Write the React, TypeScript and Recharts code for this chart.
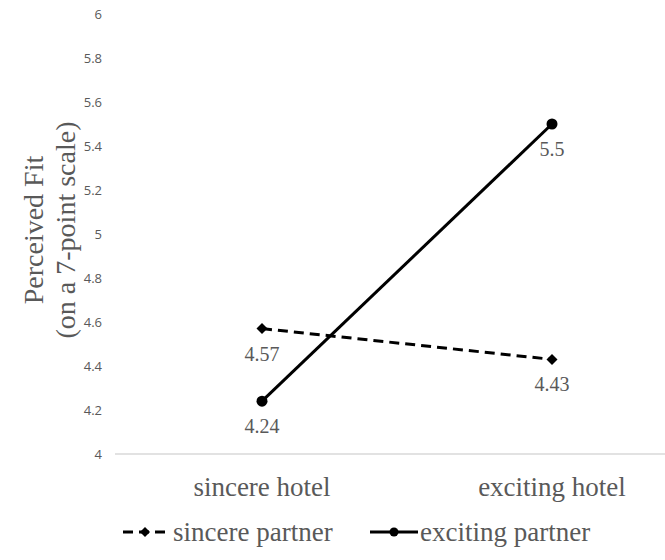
import React from 'react'
import { LineChart, Line, XAxis, YAxis, Legend, LabelList, Customized } from 'recharts'

const categories = ['sincere hotel', 'exciting hotel']
const sincerePartner = [4.57, 4.43]
const excitingPartner = [4.24, 5.5]
const yTicks = [4, 4.2, 4.4, 4.6, 4.8, 5, 5.2, 5.4, 5.6, 5.8, 6]
const seriesNames = ['sincere partner', 'exciting partner']
const yLabelLines = ['Perceived Fit', '(on a 7-point scale)']

const data = categories.map((name, i) => ({
  name,
  sincere: sincerePartner[i],
  exciting: excitingPartner[i],
}))

const SERIF = '"Liberation Serif", "Times New Roman", serif'
const GREY = '#595959'

const Diamond = (props: any) => {
  const { cx, cy } = props
  if (cx == null || cy == null) return null
  const s = 5.5
  return (
    <polygon
      points={`${cx},${cy - s} ${cx + s},${cy} ${cx},${cy + s} ${cx - s},${cy}`}
      fill="#000"
    />
  )
}

const Dot = (props: any) => {
  const { cx, cy } = props
  if (cx == null || cy == null) return null
  return <circle cx={cx} cy={cy} r={5.5} fill="#000" />
}

const valueLabel = (props: any) => {
  const { x, y, value } = props
  return (
    <text
      x={x}
      y={y + 25}
      textAnchor="middle"
      dominantBaseline="central"
      fontFamily={SERIF}
      fontSize={20}
      fill={GREY}
    >
      {value}
    </text>
  )
}

const YTitle = () => (
  <g>
    {yLabelLines.map((line, i) => {
      const x = i === 0 ? 33 : 65
      return (
        <text
          key={line}
          x={x}
          y={230}
          transform={`rotate(-90, ${x}, 230)`}
          textAnchor="middle"
          dominantBaseline="central"
          fontFamily={SERIF}
          fontSize={28}
          fill={GREY}
        >
          {line}
        </text>
      )
    })}
  </g>
)

const LegendContent = () => (
  <div style={{ position: 'relative', height: 30, fontFamily: SERIF, fontSize: 27, color: GREY }}>
    <svg width={46} height={30} style={{ position: 'absolute', left: 122, top: 0 }}>
      <line x1={1} y1={15} x2={45} y2={15} stroke="#000" strokeWidth={3} strokeDasharray="10 6" />
      <polygon points="23,10 28,15 23,20 18,15" fill="#000" />
    </svg>
    <span style={{ position: 'absolute', left: 173, top: 0, lineHeight: '30px', whiteSpace: 'nowrap' }}>
      {seriesNames[0]}
    </span>
    <svg width={48} height={30} style={{ position: 'absolute', left: 370, top: 0 }}>
      <line x1={0} y1={15} x2={48} y2={15} stroke="#000" strokeWidth={3} />
      <circle cx={24} cy={15} r={4.5} fill="#000" />
    </svg>
    <span style={{ position: 'absolute', left: 420, top: 0, lineHeight: '30px', whiteSpace: 'nowrap' }}>
      {seriesNames[1]}
    </span>
  </div>
)

export default function App() {
  return (
    <div style={{ position: 'absolute', left: 0, top: 0, background: '#fff' }}>
      <LineChart width={665} height={560} data={data} margin={{ top: 14, right: 0, left: 0, bottom: 66 }}>
        <XAxis
          dataKey="name"
          height={40}
          padding={{ left: 147, right: 113 }}
          tickLine={false}
          tickSize={0}
          tickMargin={23}
          axisLine={{ stroke: '#d9d9d9', strokeWidth: 1.5 }}
          tick={{ fontFamily: SERIF, fontSize: 27, fill: GREY }}
        />
        <YAxis
          width={115}
          domain={[4, 6]}
          ticks={yTicks}
          interval={0}
          axisLine={false}
          tickLine={false}
          tickSize={0}
          tickMargin={13}
          tickFormatter={(v: number) => String(Number(v.toFixed(1)))}
          tick={{ fontFamily: '"Open Sans", sans-serif', fontSize: 13, fill: GREY }}
        />
        <Customized component={YTitle} />
        <Legend
          verticalAlign="middle"
          align="center"
          wrapperStyle={{ top: 517, left: 0, width: 665 }}
          content={LegendContent}
        />
        <Line
          dataKey="sincere"
          name={seriesNames[0]}
          stroke="#000"
          strokeWidth={3}
          strokeDasharray="10 6"
          dot={<Diamond />}
          activeDot={false}
          isAnimationActive={false}
        >
          <LabelList dataKey="sincere" content={valueLabel} />
        </Line>
        <Line
          dataKey="exciting"
          name={seriesNames[1]}
          stroke="#000"
          strokeWidth={3}
          dot={<Dot />}
          activeDot={false}
          isAnimationActive={false}
        >
          <LabelList dataKey="exciting" content={valueLabel} />
        </Line>
      </LineChart>
    </div>
  )
}
